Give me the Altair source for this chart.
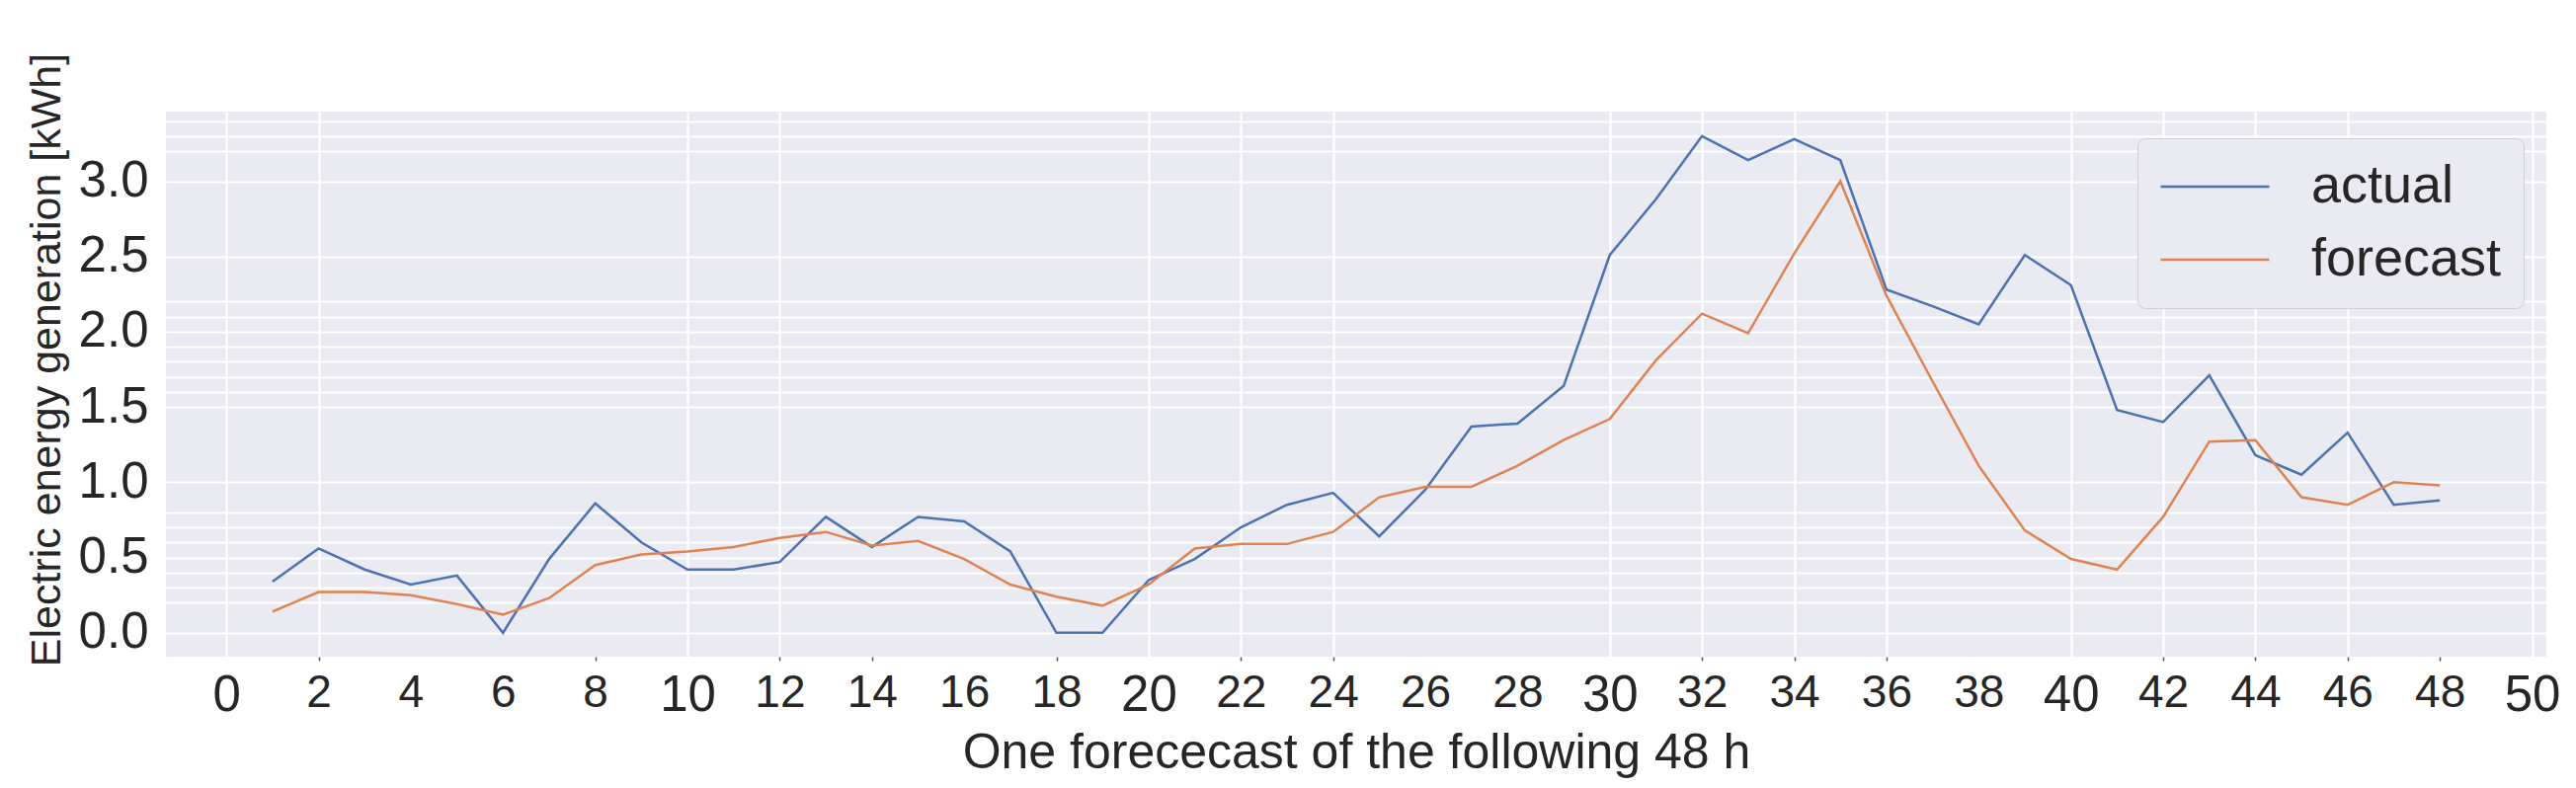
import altair as alt
import pandas as pd

# ---- data ----
hours = list(range(1, 49))
actual = [0.34, 0.56, 0.42, 0.32, 0.38, 0.00, 0.49, 0.86, 0.60, 0.42,
          0.42, 0.47, 0.77, 0.57, 0.77, 0.74, 0.54, 0.00, 0.00, 0.35,
          0.49, 0.70, 0.85, 0.93, 0.64, 0.95, 1.37, 1.39, 1.64, 2.51,
          2.88, 3.30, 3.14, 3.28, 3.14, 2.28, 2.17, 2.05, 2.51, 2.31,
          1.48, 1.40, 1.71, 1.18, 1.05, 1.33, 0.85, 0.88]
forecast = [0.14, 0.27, 0.27, 0.25, 0.19, 0.12, 0.23, 0.45, 0.52, 0.54,
            0.57, 0.63, 0.67, 0.58, 0.61, 0.49, 0.32, 0.24, 0.18, 0.32,
            0.56, 0.59, 0.59, 0.67, 0.90, 0.97, 0.97, 1.11, 1.28, 1.42,
            1.81, 2.12, 1.99, 2.52, 3.00, 2.24, 1.67, 1.11, 0.68, 0.49,
            0.42, 0.77, 1.27, 1.28, 0.90, 0.85, 1.00, 0.98]
series_names = ["actual", "forecast"]
series_colors = ["#4C72B0", "#DD8452"]

x_ticks = list(range(0, 51, 2))
x_grid = [0, 2, 10, 12, 20, 22, 24, 30, 32, 34, 36, 40, 42, 44, 46, 50]
x_tick_marks = [2, 8, 12, 14, 18, 22, 24, 32, 34, 36, 42, 44, 46, 48]
y_grid = [0.0, 0.2, 0.3, 0.4, 0.5, 0.6, 0.7, 0.8, 1.0, 1.5, 1.6, 1.7, 1.8,
          1.9, 2.0, 2.1, 2.2, 2.5, 3.0, 3.2, 3.3, 3.4]

x_title = "One forececast of the following 48 h"
y_title = "Electric energy generation [kWh]"

df = pd.DataFrame({
    "hour": hours + hours,
    "value": actual + forecast,
    "series": [series_names[0]] * len(hours) + [series_names[1]] * len(hours),
})

FONT = "Liberation Sans"
TXT = "#262626"
BG = "#EAEAF2"
W, H = 2410, 552

grid_test = "indexof(" + str(x_grid) + ", datum.value) >= 0"
tick_test = "indexof(" + str(x_tick_marks) + ", datum.value) >= 0"

x_axis = alt.Axis(
    values=x_ticks,
    title=x_title,
    domain=False,
    grid=True,
    gridColor="white",
    gridWidth=2.2,
    gridOpacity={"condition": {"test": grid_test, "value": 1}, "value": 0},
    ticks=True,
    tickSize=4,
    tickWidth=1.5,
    tickColor="#555555",
    tickOpacity={"condition": {"test": tick_test, "value": 1}, "value": 0},
    labelFont=FONT,
    labelColor=TXT,
    labelFontSize={"condition": {"test": "datum.value % 10 == 0", "value": 51}, "value": 46},
    labelPadding=10,
    labelOverlap=False,
    labelFlush=False,
    titleFont=FONT,
    titleColor=TXT,
    titleFontSize=50,
    titleFontWeight="normal",
    titleBaseline="alphabetic",
    titleY=112,
)

y_axis = alt.Axis(
    values=y_grid,
    labelExpr="abs(datum.value*2 - round(datum.value*2)) < 0.001 ? format(datum.value, '.1f') : ''",
    title=y_title,
    domain=False,
    ticks=False,
    grid=True,
    gridColor="white",
    gridWidth=2.2,
    labelFont=FONT,
    labelColor=TXT,
    labelFontSize=51,
    labelPadding=18,
    labelOverlap=False,
    labelFlush=False,
    titleFont=FONT,
    titleColor=TXT,
    titleFontSize=43,
    titleFontWeight="normal",
    titleBaseline="alphabetic",
    titleX=-108,
    titleY=251,
)

legend = alt.Legend(
    title=None,
    orient="none",
    legendX=1996,
    legendY=27,
    fillColor=BG,
    strokeColor="#cfcfcf",
    cornerRadius=8,
    padding=22,
    labelFont=FONT,
    labelColor=TXT,
    labelFontSize=54,
    labelLimit=500,
    labelOffset=41,
    rowPadding=20,
    clipHeight=54,
    symbolType="stroke",
    symbolSize=12100,
    symbolStrokeWidth=2.5,
)

chart = alt.Chart(df).mark_line(strokeWidth=2.5).encode(
    x=alt.X("hour:Q", scale=alt.Scale(domain=[-1.31, 50.31], nice=False, zero=False), axis=x_axis),
    y=alt.Y("value:Q", scale=alt.Scale(domain=[-0.159, 3.463], nice=False, zero=False), axis=y_axis),
    color=alt.Color("series:N", scale=alt.Scale(domain=series_names, range=series_colors), legend=legend),
).properties(
    width=W,
    height=H,
    autosize=alt.AutoSizeParams(type="none"),
    padding={"left": 160, "top": 105, "right": 20, "bottom": 130},
    background="white",
).configure_view(
    fill=BG,
    stroke=None,
)

chart.save("out.html", embed_options={"renderer": "svg", "actions": False})
